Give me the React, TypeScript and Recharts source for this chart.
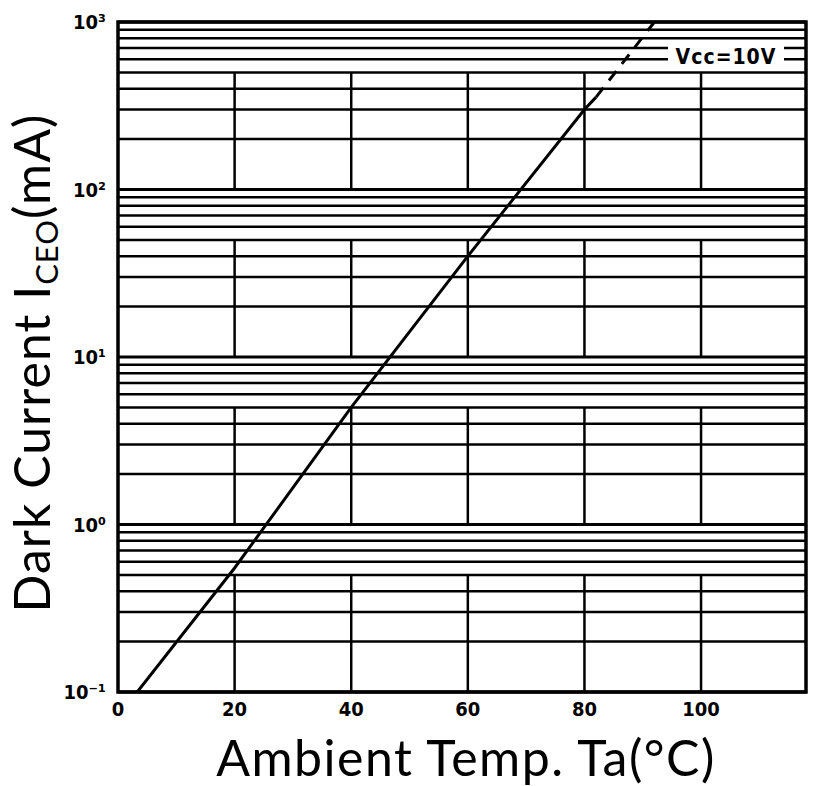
import { LineChart, Line, XAxis, YAxis, ReferenceLine, ReferenceArea } from "recharts";

// axis ticks
const tempTicks = [0, 20, 40, 60, 80, 100];
const currentTicks = [0.1, 1, 10, 100, 1000];
const currentTickLabels = ["10⁻¹", "10⁰", "10¹", "10²", "10³"];

// log grid: every 1..9 step in each decade
const decadeStarts = [0.1, 1, 10, 100];
const minorSteps = [2, 3, 4, 5, 6, 7, 8, 9];

// measured curve (solid) and the extrapolated part (dashed)
const measuredTemp = [3.3, 20, 40, 60, 80, 82];
const measuredCurrent = [0.1, 0.55, 5.0, 40, 300, 356];
const extrapTemp = [82, 92];
const extrapCurrent = [356, 1000];

const measured = measuredTemp.map((t, i) => ({ t, i: measuredCurrent[i] }));
const extrap = extrapTemp.map((t, i) => ({ t, i: extrapCurrent[i] }));
const minorValues = decadeStarts.flatMap((d) => minorSteps.map((s) => +(d * s).toPrecision(3)));

const tickFont = { fontFamily: "DejaVu Sans Condensed", fontWeight: 700, fontSize: 20, fill: "#000" };
const titleFont = "Lato, 'DejaVu Sans', sans-serif";

export default function App() {
  return (
    <div style={{ position: "absolute", left: 0, top: 0, width: 813, height: 786, background: "#fff" }}>
      <LineChart width={813} height={786} margin={{ top: 22, right: 7, bottom: 0, left: 0 }}>
        <XAxis
          dataKey="t"
          type="number"
          domain={[0, 118]}
          ticks={tempTicks}
          allowDataOverflow
          axisLine={false}
          tickLine={false}
          tickSize={0}
          tickMargin={10}
          height={94}
          tick={tickFont}
        />
        <YAxis
          dataKey="i"
          type="number"
          scale="log"
          domain={[0.1, 1000]}
          ticks={currentTicks}
          allowDataOverflow
          axisLine={false}
          tickLine={false}
          tickSize={0}
          tickMargin={12}
          width={118}
          tick={tickFont}
          tickFormatter={(v: number) => currentTickLabels[currentTicks.indexOf(v)] ?? String(v)}
        />
        {minorValues.map((v) => (
          <ReferenceLine key={"h" + v} y={v} stroke="#000" strokeWidth={2.5} />
        ))}
        {currentTicks.map((v) => (
          <ReferenceLine key={"m" + v} y={v} stroke="#000" strokeWidth={3} />
        ))}
        {/* vertical grid only runs through the sparse lower half of each decade */}
        {tempTicks.slice(1).flatMap((x) =>
          decadeStarts.map((d) => (
            <ReferenceLine
              key={"v" + x + "-" + d}
              segment={[{ x, y: d }, { x, y: d * 5 }]}
              stroke="#000"
              strokeWidth={2.5}
            />
          ))
        )}
        <ReferenceArea x1={0} x2={118} y1={0.1} y2={1000} fill="none" stroke="#000" strokeWidth={3.5} />
        <Line
          data={measured}
          dataKey="i"
          type="linear"
          stroke="#000"
          strokeWidth={3}
          dot={false}
          isAnimationActive={false}
        />
        <Line
          data={extrap}
          dataKey="i"
          type="linear"
          stroke="#000"
          strokeWidth={3}
          strokeDasharray="12 9"
          dot={false}
          isAnimationActive={false}
        />
      </LineChart>

      <div
        style={{
          position: "absolute",
          left: 668,
          top: 44,
          width: 116,
          height: 27,
          background: "#fff",
          fontFamily: "DejaVu Sans Condensed",
          fontWeight: 700,
          fontSize: 21,
          letterSpacing: 1,
          lineHeight: "27px",
          textAlign: "center",
        }}
      >
        Vcc=10V
      </div>

      <svg width={813} height={786} style={{ position: "absolute", left: 0, top: 0, pointerEvents: "none" }}>
        <text
          x={50}
          y={363}
          transform="rotate(-90 50 363)"
          textAnchor="middle"
          fontFamily={titleFont}
          fontSize={50}
          letterSpacing={1}
          fill="#000"
        >
          Dark Current I<tspan fontSize={31} dy={8}>CEO</tspan>
          <tspan dy={-8}>(mA)</tspan>
        </text>
        <text
          x={466}
          y={776}
          textAnchor="middle"
          fontFamily={titleFont}
          fontSize={50}
          letterSpacing={1.5}
          fill="#000"
        >
          Ambient Temp. Ta(°C)
        </text>
      </svg>
    </div>
  );
}
